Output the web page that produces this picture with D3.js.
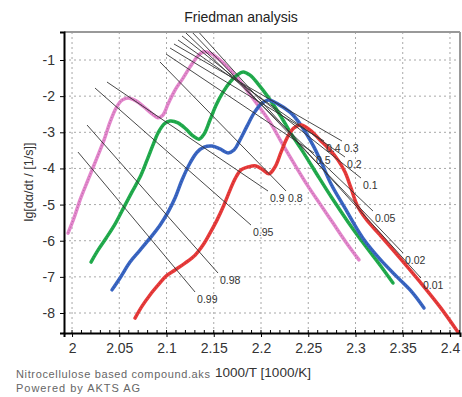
<!DOCTYPE html>
<html>
<head>
<meta charset="utf-8">
<script src="https://cdn.jsdelivr.net/npm/d3@7"></script>
<style>
  body { margin: 0; background: #fff; }
  svg { font-family: "Liberation Sans", Arial, sans-serif; }
</style>
</head>
<body>
<div id="chart"></div>
<script>
// data: [1000/T, lg(da/dt)]
const xTicks = [2, 2.05, 2.1, 2.15, 2.2, 2.25, 2.3, 2.35, 2.4];
const yTicks = [-1, -2, -3, -4, -5, -6, -7, -8];

const pinkCurve = [
  [1.9958, -5.79], [2.0021, -5.37], [2.0085, -4.87], [2.0169, -4.32], [2.0254, -3.77],
  [2.0339, -3.21], [2.0402, -2.72], [2.0466, -2.33], [2.0529, -2.11], [2.0593, -2.05],
  [2.0677, -2.13], [2.0762, -2.30], [2.0847, -2.49], [2.0910, -2.60], [2.0963, -2.52],
  [2.1016, -2.22], [2.1090, -1.83], [2.1175, -1.50], [2.1249, -1.19], [2.1323, -0.92],
  [2.1386, -0.78], [2.1460, -0.81], [2.1566, -1.00], [2.1693, -1.33], [2.1831, -1.77],
  [2.1968, -2.25], [2.2095, -2.72], [2.2222, -3.30], [2.2360, -3.91], [2.2497, -4.49],
  [2.2624, -4.98], [2.2762, -5.51], [2.2899, -6.04], [2.3037, -6.53]
];

const greenCurve = [
  [2.0201, -6.59], [2.0275, -6.26], [2.0360, -5.93], [2.0455, -5.54], [2.0550, -5.07],
  [2.0635, -4.65], [2.0720, -4.24], [2.0794, -3.77], [2.0857, -3.35], [2.0910, -3.02],
  [2.0974, -2.77], [2.1037, -2.69], [2.1122, -2.74], [2.1206, -2.91], [2.1280, -3.10],
  [2.1344, -3.19], [2.1397, -3.05], [2.1460, -2.66], [2.1524, -2.25], [2.1598, -1.89],
  [2.1672, -1.61], [2.1746, -1.42], [2.1810, -1.33], [2.1884, -1.42], [2.1968, -1.66],
  [2.2074, -2.02], [2.2201, -2.52], [2.2328, -3.08], [2.2466, -3.63], [2.2603, -4.21],
  [2.2751, -4.82], [2.2921, -5.48], [2.3090, -6.09], [2.3259, -6.67], [2.3397, -7.17]
];

const blueCurve = [
  [2.0423, -7.36], [2.0508, -7.03], [2.0614, -6.59], [2.0720, -6.26], [2.0825, -5.93],
  [2.0931, -5.57], [2.1016, -5.21], [2.1090, -4.82], [2.1164, -4.32], [2.1249, -3.85],
  [2.1323, -3.55], [2.1397, -3.41], [2.1481, -3.38], [2.1566, -3.46], [2.1651, -3.57],
  [2.1714, -3.49], [2.1778, -3.21], [2.1852, -2.83], [2.1926, -2.47], [2.2000, -2.22],
  [2.2074, -2.11], [2.2180, -2.22], [2.2307, -2.44], [2.2392, -2.69], [2.2476, -3.02],
  [2.2561, -3.41], [2.2646, -3.88], [2.2741, -4.43], [2.2889, -5.10], [2.3079, -5.93],
  [2.3259, -6.51], [2.3439, -7.00], [2.3598, -7.42], [2.3725, -7.86]
];

const redCurve = [
  [2.0667, -8.14], [2.0741, -7.81], [2.0825, -7.50], [2.0910, -7.23], [2.0995, -6.98],
  [2.1090, -6.81], [2.1196, -6.62], [2.1302, -6.40], [2.1386, -6.12], [2.1460, -5.79],
  [2.1534, -5.43], [2.1608, -5.01], [2.1672, -4.60], [2.1725, -4.29], [2.1788, -4.04],
  [2.1862, -3.96], [2.1947, -3.93], [2.2021, -4.04], [2.2085, -4.15], [2.2148, -3.96],
  [2.2212, -3.55], [2.2275, -3.16], [2.2349, -2.88], [2.2423, -2.80], [2.2519, -2.94],
  [2.2624, -3.21], [2.2730, -3.49], [2.2815, -3.77], [2.2889, -4.10], [2.2952, -4.54],
  [2.3016, -5.01], [2.3111, -5.40], [2.3259, -5.84], [2.3471, -6.48], [2.3683, -7.14],
  [2.3894, -7.83], [2.4085, -8.53]
];

// iso-conversion lines
const isoLabels = ["0.99", "0.98", "0.95", "0.9", "0.8", "0.5", "0.4", "0.3", "0.2", "0.1", "0.05", "0.02", "0.01"];
const isoStart = [
  [2.0063, -3.546], [2.0159, -2.799], [2.0243, -1.775], [2.0370, -1.609], [2.0931, -1.055],
  [2.0995, -0.834], [2.1037, -0.668], [2.1079, -0.557], [2.1122, -0.447], [2.1164, -0.336],
  [2.1206, -0.253], [2.1249, -0.170], [2.1302, -0.115]
];
const isoEnd = [
  [2.1302, -7.419], [2.1545, -6.894], [2.1894, -5.566], [2.2074, -4.625], [2.2265, -4.625],
  [2.2561, -3.573], [2.2667, -3.241], [2.2857, -3.241], [2.2889, -3.684], [2.3058, -4.265],
  [2.3185, -5.178], [2.3503, -6.340], [2.3693, -7.032]
];

const series = [
  { name: "pink", color: "#e487cd", values: pinkCurve },
  { name: "green", color: "#22ad4e", values: greenCurve },
  { name: "blue", color: "#3a66c4", values: blueCurve },
  { name: "red", color: "#e93b3b", values: redCurve }
];

// setup
const width = 462;
const height = 397;
const margin = { top: 32, right: 2, bottom: 64, left: 64 };
const plotW = width - margin.left - margin.right;
const plotH = height - margin.top - margin.bottom;

const svg = d3.select("#chart").append("svg")
  .attr("width", width)
  .attr("height", height);

const x = d3.scaleLinear().domain([1.9915, 2.4106]).range([0, plotW]);
const y = d3.scaleLinear().domain([-8.553, -0.225]).range([plotH, 0]);

const g = svg.append("g").attr("transform", `translate(${margin.left},${margin.top})`);

svg.append("defs").append("clipPath").attr("id", "clip")
  .append("rect").attr("width", plotW).attr("height", plotH);

// grid
g.append("g").selectAll("line").data(xTicks).join("line")
  .attr("x1", d => x(d)).attr("x2", d => x(d))
  .attr("y1", 0).attr("y2", plotH)
  .attr("stroke", "#a8a8a8").attr("stroke-dasharray", "2,3");
g.append("g").selectAll("line").data(yTicks).join("line")
  .attr("x1", 0).attr("x2", plotW)
  .attr("y1", d => y(d)).attr("y2", d => y(d))
  .attr("stroke", "#a8a8a8").attr("stroke-dasharray", "2,3");

// curves
const line = d3.line().x(d => x(d[0])).y(d => y(d[1])).curve(d3.curveCatmullRom.alpha(0.5));
const curvesG = g.append("g").attr("clip-path", "url(#clip)");
curvesG.selectAll("path.curve").data(series).join("path")
  .attr("class", "curve")
  .attr("d", d => line(d.values))
  .attr("fill", "none")
  .attr("stroke", d => d.color)
  .attr("stroke-width", 3.5)
  .attr("stroke-linejoin", "round")
  .attr("stroke-linecap", "round");
// marker texture
curvesG.selectAll("path.tex").data(series).join("path")
  .attr("class", "tex")
  .attr("d", d => line(d.values))
  .attr("fill", "none")
  .attr("stroke", "#000")
  .attr("stroke-opacity", 0.18)
  .attr("stroke-width", 1.2)
  .attr("stroke-dasharray", "1,2");

// iso lines
const isoData = isoLabels.map((lab, i) => ({ label: lab, s: isoStart[i], e: isoEnd[i] }));
curvesG.selectAll("line.iso").data(isoData).join("line")
  .attr("class", "iso")
  .attr("x1", d => x(d.s[0])).attr("y1", d => y(d.s[1]))
  .attr("x2", d => x(d.e[0])).attr("y2", d => y(d.e[1]))
  .attr("stroke", "#333")
  .attr("stroke-width", 0.9);

g.selectAll("text.iso").data(isoData).join("text")
  .attr("class", "iso")
  .attr("x", d => x(d.e[0]) + 2)
  .attr("y", d => y(d.e[1]) + 11)
  .attr("fill", "#333")
  .style("font-size", "10.5px")
  .text(d => d.label);

// frame
g.append("line").attr("x1", 0).attr("x2", plotW).attr("y1", 0).attr("y2", 0)
  .attr("stroke", "#999").attr("stroke-width", 2);
g.append("line").attr("x1", plotW).attr("x2", plotW).attr("y1", 0).attr("y2", plotH)
  .attr("stroke", "#999").attr("stroke-width", 2);

// axes
const xAxisG = g.append("g").attr("transform", `translate(0,${plotH})`)
  .call(d3.axisBottom(x).tickValues(xTicks).tickSize(4).tickPadding(6).tickFormat(d3.format("")));
const yAxisG = g.append("g")
  .call(d3.axisLeft(y).tickValues(yTicks).tickSize(4).tickPadding(5).tickFormat(d => String(d)));

[xAxisG, yAxisG].forEach(a => {
  a.select(".domain").attr("stroke", "#000").attr("stroke-width", 2);
  a.selectAll("text").attr("fill", "#333").style("font-size", "14px")
    .style("font-family", "Liberation Sans, Arial, sans-serif");
});

// minor ticks on the bottom axis
g.append("g").selectAll("line").data(d3.range(2.0, 2.41, 0.01)).join("line")
  .attr("x1", d => x(d)).attr("x2", d => x(d))
  .attr("y1", plotH).attr("y2", plotH - 3)
  .attr("stroke", "#000");

// titles
svg.append("text")
  .attr("x", 241).attr("y", 22)
  .attr("text-anchor", "middle")
  .attr("fill", "#222")
  .style("font-size", "14px")
  .text("Friedman analysis");

svg.append("text")
  .attr("x", 263).attr("y", 377)
  .attr("text-anchor", "middle")
  .attr("fill", "#333")
  .style("font-size", "13.5px")
  .text("1000/T [1000/K]");

svg.append("text")
  .attr("transform", "translate(33,182) rotate(-90)")
  .attr("text-anchor", "middle")
  .attr("fill", "#333")
  .style("font-size", "12.5px")
  .text("lg[dα/dt / [1/s]]");

svg.append("text")
  .attr("x", 16).attr("y", 378)
  .attr("fill", "#666")
  .style("font-size", "11px")
  .attr("textLength", 194)
  .text("Nitrocellulose based compound.aks");
svg.append("text")
  .attr("x", 16).attr("y", 392)
  .attr("fill", "#666")
  .style("font-size", "11px")
  .attr("textLength", 124)
  .text("Powered by AKTS AG");
</script>
</body>
</html>
